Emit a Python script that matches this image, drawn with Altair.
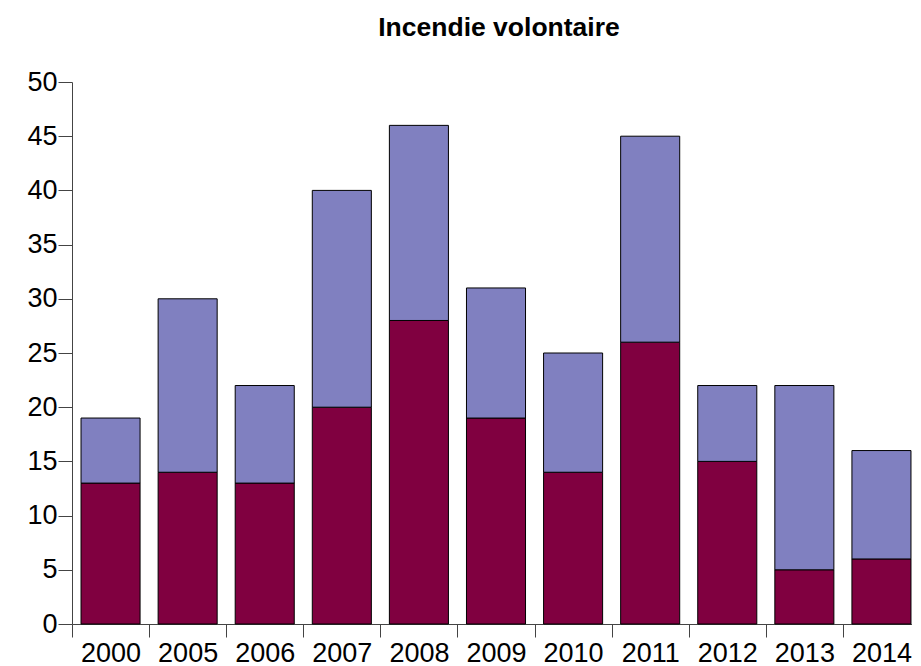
import altair as alt
import pandas as pd

years = ["2000", "2005", "2006", "2007", "2008", "2009", "2010", "2011", "2012", "2013", "2014"]
bottom_vals = [13, 14, 13, 20, 28, 19, 14, 26, 15, 5, 6]
totals = [19, 30, 22, 40, 46, 31, 25, 45, 22, 22, 16]
top_vals = [t - b for t, b in zip(totals, bottom_vals)]
series = ["A", "B"]
colors = ["#800040", "#8080C0"]

rows = []
for y, b, t in zip(years, bottom_vals, top_vals):
    rows.append({"year": y, "series": "A", "value": b, "ord": 0})
    rows.append({"year": y, "series": "B", "value": t, "ord": 1})
df = pd.DataFrame(rows)

FONT = "Liberation Sans"

chart = alt.Chart(df).mark_bar(stroke="black", strokeWidth=1, width={"band": 0.766}).encode(
    x=alt.X("year:N", sort=years, title=None,
            scale=alt.Scale(paddingInner=0, paddingOuter=0, range=[0, 848]),
            axis=alt.Axis(labelAngle=0, labelFontSize=27, tickBand="extent",
                          tickSize=13, labelPadding=3, domainColor="#444",
                          tickColor="#444", labelColor="black",
                          labelFont=FONT)),
    y=alt.Y("value:Q", stack="zero", title=None,
            scale=alt.Scale(domain=[0, 50], nice=False),
            axis=alt.Axis(values=list(range(0, 51, 5)), labelFontSize=27, tickSize=14,
                          labelPadding=1, grid=False, domainColor="#444",
                          tickColor="#444", labelColor="black",
                          labelFont=FONT)),
    color=alt.Color("series:N", scale=alt.Scale(domain=series, range=colors), legend=None),
    order=alt.Order("ord:Q"),
).properties(
    width=840, height=542,
    title=alt.TitleParams("Incendie volontaire", fontSize=26.5, fontWeight="bold",
                          font=FONT, anchor="middle", offset=27, color="black",
                          frame="group", dx=7),
    autosize=alt.AutoSizeParams(type="none"),
    padding={"left": 64, "top": 74, "right": 0, "bottom": 50},
).configure_view(stroke=None)

chart.save("out.html", embed_options={"renderer": "svg", "actions": False})
